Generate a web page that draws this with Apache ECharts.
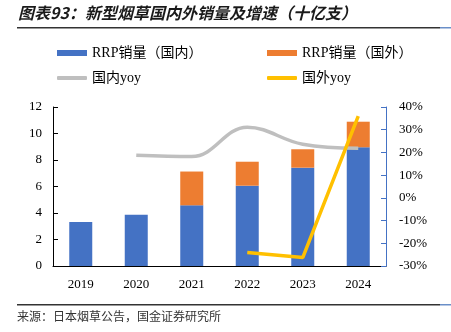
<!DOCTYPE html>
<html><head><meta charset="utf-8">
<script src="https://cdn.jsdelivr.net/npm/echarts@6/dist/echarts.min.js"></script>
<style>html,body{margin:0;padding:0;background:#fff}#c{width:451px;height:332px}</style>
</head><body><div id="c"></div>
<script>
var categories = ['2019','2020','2021','2022','2023','2024'];
var domestic = [3.32, 3.87, 4.58, 6.06, 7.42, 8.96];
var foreign = [null, null, 2.55, 1.81, 1.39, 1.93];
var domesticYoy = [null, 18.8, 18.2, 31.1, 23.6, 21.8];
var foreignYoy = [null, null, null, -24.1, -26.3, 36.0];
var leftTicks = {min: 0, max: 12, interval: 2};
var rightTicks = {min: -30, max: 40, interval: 10};

var serif = '"Liberation Serif","Times New Roman","Noto Sans CJK SC",serif';
var chart = echarts.init(document.getElementById('c'));
function lg(name, left, top, icon, h) {
  return {data: [{name: name, icon: icon}], left: left, top: top, itemWidth: 30, itemHeight: h,
    textStyle: {fontFamily: serif, fontSize: 14, color: '#000'}, selectedMode: false};
}
chart.setOption({
  animation: false,
  graphic: [
    {type: 'text', left: 18, top: 5, style: {text: '图表93：新型烟草国内外销量及增速（十亿支）', fontFamily: '"Noto Sans CJK SC"', fontStyle: 'italic', fontWeight: 'bold', fontSize: 16, fill: '#1a1a1a'}},
    {type: 'rect', shape: {x: 17, y: 27, width: 423, height: 1.5}, style: {fill: '#333'}},
    {type: 'rect', shape: {x: 440, y: 27, width: 11, height: 1.5}, style: {fill: '#6a8fc8'}},
    {type: 'rect', shape: {x: 17, y: 304, width: 423, height: 1.5}, style: {fill: '#333'}},
    {type: 'rect', shape: {x: 440, y: 304, width: 11, height: 1.5}, style: {fill: '#6a8fc8'}},
    {type: 'text', left: 17, top: 310, style: {text: '来源：日本烟草公告，国金证券研究所', fontFamily: '"Noto Sans CJK SC"', fontSize: 12, fill: '#333'}}
  ],
  legend: [
    lg('RRP销量（国内）', 52, 41, 'rect', 6),
    lg('RRP销量（国外）', 262, 41, 'rect', 6),
    lg('国内yoy', 52, 66, 'roundRect', 4),
    lg('国外yoy', 262, 66, 'roundRect', 4)
  ],
  grid: {left: 53, right: 65, top: 107, bottom: 66},
  xAxis: {type: 'category', data: categories,
    axisLine: {lineStyle: {color: '#000', width: 1}},
    axisTick: {inside: true, length: 5, lineStyle: {color: '#000'}},
    axisLabel: {fontFamily: serif, fontSize: 13, color: '#000', margin: 12}},
  yAxis: [
    {type: 'value', min: leftTicks.min, max: leftTicks.max, interval: leftTicks.interval,
      splitLine: {show: false},
      axisLine: {show: true, lineStyle: {color: '#000'}},
      axisTick: {show: true, inside: true, length: 5, lineStyle: {color: '#000'}},
      axisLabel: {fontFamily: serif, fontSize: 13, color: '#000', margin: 11}},
    {type: 'value', min: rightTicks.min, max: rightTicks.max, interval: rightTicks.interval, position: 'right',
      splitLine: {show: false},
      axisLine: {show: true, lineStyle: {color: '#4472C4'}},
      axisTick: {show: true, inside: true, length: 5, lineStyle: {color: '#4472C4'}},
      axisLabel: {fontFamily: serif, fontSize: 13, color: '#000', margin: 13, formatter: '{value}%'}}
  ],
  series: [
    {name: 'RRP销量（国内）', type: 'bar', stack: 's', data: domestic, barWidth: 23, itemStyle: {color: '#4472C4'}},
    {name: 'RRP销量（国外）', type: 'bar', stack: 's', data: foreign, barWidth: 23, itemStyle: {color: '#ED7D31'}},
    {name: '国内yoy', type: 'line', yAxisIndex: 1, data: domesticYoy, smooth: 0.4, showSymbol: false, symbol: 'none',
      lineStyle: {color: '#BFBFBF', width: 3.5}, itemStyle: {color: '#BFBFBF'}},
    {name: '国外yoy', type: 'line', yAxisIndex: 1, data: foreignYoy, showSymbol: false, symbol: 'none',
      lineStyle: {color: '#FFC000', width: 3.5}, itemStyle: {color: '#FFC000'}}
  ]
});
</script></body></html>
